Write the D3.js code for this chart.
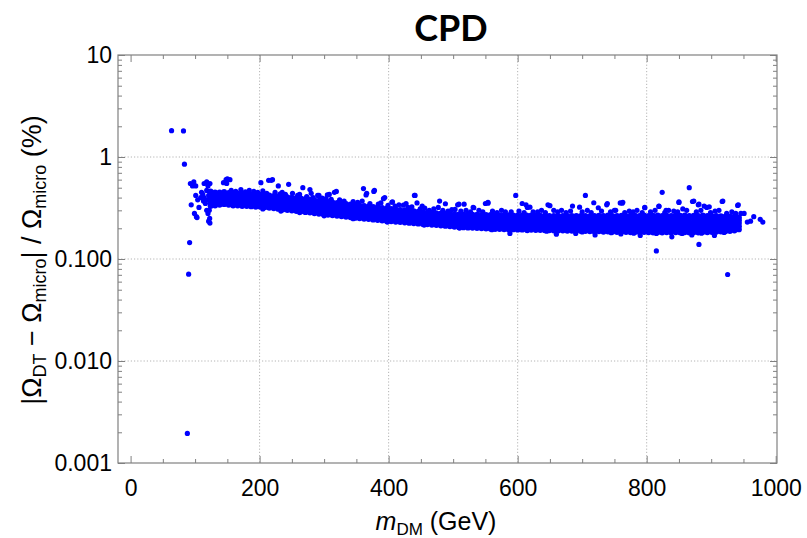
<!DOCTYPE html>
<html>
<head>
<meta charset="utf-8">
<script src="https://cdn.jsdelivr.net/npm/d3@7"></script>
<style>
  body { margin: 0; background: #fff; }
  text { font-family: "Liberation Sans", Arial, sans-serif; }
</style>
</head>
<body>
<script>
// values: m_DM (GeV) against relative deviation (%)
const outliers = [[63.5,1.81],[82,1.80],[83.5,0.85],[91.5,0.145],[90,0.071],[88,0.00195],
  [815,0.12],[881,0.139],[925.5,0.0705]];

const earlyPts = [[92.7,0.55],[96,0.52],[97,0.53],[101,0.52],[98,0.57],[101,0.42],[104,0.38],
  [108.7,0.40],[94,0.34],[99,0.28],[102,0.26],[103,0.255],[106,0.32],[110,0.45],[112,0.43],
  [113,0.37],[114,0.40],[116,0.35],[114,0.55],[118,0.57],[120,0.52],[123,0.55],[118,0.47],
  [119,0.38],[121,0.42],[118,0.30],[120,0.28],[122,0.30],[121,0.235],[122.6,0.25],[123,0.225]];

const upperPts = [[144,0.56],[148,0.60],[150,0.61],[154,0.60],[149,0.55],[202,0.56],[214,0.59],
  [218,0.59],[220,0.60],[229,0.52],[235,0.45],[245,0.54],[267,0.50],[278,0.48],[280,0.44],
  [290,0.42],[292,0.42],[305,0.425],[308,0.43],[316,0.45],[319,0.46],[361,0.49],[365,0.425],
  [366,0.44],[377,0.46],[378,0.47],[392,0.39],[394,0.40],[405,0.36],[406,0.363],[423,0.337],
  [427,0.35],[440,0.42],[441,0.42],[444,0.355],[452,0.33],[477,0.32],[479,0.37],[488,0.348],
  [503,0.306],[507,0.34],[509,0.345],[517,0.345],[531,0.32],[532,0.318],[550,0.35],[554,0.36],
  [554,0.353],[581,0.29],[597,0.42],[607,0.35],[613,0.34],[615,0.32],[619,0.322],[631,0.29],
  [647,0.34],[650,0.333],[656,0.30],[685,0.33],[696,0.322],[705,0.42],[718,0.356],[725,0.318],
  [738,0.34],[739,0.35],[750,0.30],[759,0.355],[762,0.353],[763,0.36],[779,0.29],[797,0.32],
  [797,0.318],[819,0.33],[819,0.328],[824,0.45],[830,0.30],[834,0.30],[850,0.363],[850,0.358],
  [856,0.31],[866,0.50],[871,0.366],[873,0.37],[880,0.34],[881,0.345],[889,0.33],[893,0.32],
  [897,0.325],[912,0.30],[917,0.366],[918,0.37],[941,0.335],[942,0.34],[946,0.28],[951,0.28],
  [956,0.23],[961,0.235],[966,0.26],[976,0.245],[980,0.23]];

// loose points just above the dense band
const fuzzPts = [[156,0.47],[163,0.46],[171,0.48],[178,0.455],[184,0.47],[191,0.46],[197,0.45],
  [205,0.465],[211,0.44],[224,0.45],[232,0.435],[240,0.43],[251,0.44],[259,0.42],[262,0.43],
  [273,0.41],[283,0.40],[297,0.395],[303,0.39],[311,0.385],[324,0.38],[331,0.37],[345,0.365],
  [352,0.36],[359,0.37],[371,0.35],[384,0.345],[388,0.355],[399,0.335],[410,0.33],[416,0.34],
  [430,0.32],[436,0.325],[449,0.31],[456,0.315],[463,0.30],[470,0.31],[484,0.30],[492,0.295],
  [498,0.305],[512,0.295],[520,0.30],[527,0.29],[540,0.30],[546,0.29],[561,0.295],[568,0.285],
  [575,0.30],[590,0.29],[602,0.295],[610,0.285],[624,0.29],[637,0.30],[643,0.285],[662,0.29],
  [668,0.30],[675,0.285],[682,0.295],[700,0.29],[708,0.30],[714,0.285],[730,0.295],[744,0.29],
  [752,0.30],[766,0.285],[773,0.295],[785,0.30],[793,0.285],[806,0.29],[813,0.30],[828,0.285],
  [842,0.295],[848,0.29],[862,0.30],[877,0.29],[884,0.30],[899,0.285],[906,0.295],[924,0.28],
  [932,0.29],[938,0.28]];

// points along the lower edge of the band
const lowPts = [[205,0.31],[233,0.295],[262,0.285],[300,0.265],[345,0.248],[398,0.23],[455,0.215],
  [510,0.201],[560,0.194],[588,0.178],[615,0.19],[645,0.187],[660,0.175],[690,0.178],[700,0.184],
  [720,0.172],[745,0.181],[760,0.176],[780,0.179],[790,0.17],[815,0.178],[839,0.165],[855,0.178],
  [870,0.172],[885,0.179],[905,0.17],[920,0.182]];

// dense band, one row per mass slice: [mass, ratios...]
const bandCols = [
  [124,.33,.355,.38,.405,.43,.46],[131,.335,.36,.38,.405,.425,.45],[138,.34,.36,.385,.405,.43,.45],
  [145,.345,.365,.385,.41,.43,.455],[152,.34,.36,.38,.405,.425,.445],[159,.335,.355,.38,.40,.42,.445],
  [166,.335,.355,.375,.395,.42,.44],[173,.33,.35,.37,.395,.415,.44],[180,.33,.35,.37,.39,.41,.435],
  [187,.328,.348,.368,.39,.41,.43],[194,.325,.345,.365,.385,.405,.43],[201,.325,.343,.362,.383,.405,.428],
  [208,.322,.34,.36,.38,.40,.425],[215,.318,.336,.355,.375,.397,.42],[222,.314,.332,.351,.371,.393,.416],
  [229,.31,.328,.347,.367,.389,.412],[236,.306,.324,.343,.363,.385,.408],[243,.302,.32,.339,.36,.381,.404],
  [250,.299,.317,.336,.356,.378,.40],[257,.295,.313,.332,.352,.374,.397],[264,.292,.31,.329,.349,.37,.393],
  [271,.288,.306,.325,.345,.366,.389],[278,.285,.302,.32,.34,.36,.383],[285,.281,.298,.316,.335,.355,.377],
  [292,.277,.294,.312,.331,.351,.372],[299,.274,.291,.308,.327,.347,.368],[306,.271,.288,.305,.323,.342,.362],
  [313,.268,.284,.301,.319,.338,.358],[320,.265,.281,.298,.316,.335,.354],[327,.262,.278,.295,.312,.331,.35],
  [334,.259,.275,.291,.309,.327,.346],[341,.256,.272,.288,.305,.323,.342],[348,.253,.269,.285,.302,.32,.338],
  [355,.251,.266,.282,.299,.316,.334],[362,.248,.263,.279,.295,.313,.331],[369,.246,.261,.276,.292,.31,.327],
  [376,.243,.258,.273,.289,.306,.323],[383,.241,.255,.27,.286,.303,.32],[390,.238,.253,.268,.283,.30,.316],
  [397,.236,.25,.265,.28,.296,.313],[404,.234,.248,.262,.277,.293,.31],[411,.232,.246,.26,.275,.29,.306],
  [418,.23,.244,.258,.272,.287,.303],[425,.228,.242,.255,.27,.284,.30],[432,.226,.24,.253,.267,.282,.297],
  [439,.224,.238,.251,.265,.279,.294],[446,.222,.236,.249,.263,.277,.291],[453,.22,.234,.247,.261,.275,.288],
  [460,.219,.232,.245,.259,.272,.285],[467,.217,.23,.243,.257,.27,.283],[474,.215,.228,.241,.255,.268,.281],
  [481,.213,.226,.239,.253,.266,.279],[488,.211,.224,.237,.251,.264,.278],[495,.209,.222,.236,.249,.263,.276],
  [502,.207,.22,.234,.248,.262,.275],[509,.205,.218,.232,.246,.26,.274],[516,.204,.217,.231,.245,.259,.273],
  [523,.203,.216,.23,.244,.258,.273],[530,.202,.215,.229,.243,.257,.272],[537,.201,.214,.228,.242,.257,.272],
  [544,.20,.213,.227,.241,.256,.271],[551,.199,.212,.226,.24,.255,.271],[558,.198,.211,.225,.239,.254,.27],
  [565,.197,.21,.224,.239,.254,.27],[572,.197,.21,.224,.238,.253,.269],[579,.196,.209,.223,.237,.253,.269],
  [586,.195,.208,.222,.237,.252,.269],[593,.195,.208,.222,.236,.252,.268],[600,.194,.207,.221,.236,.251,.268],
  [607,.194,.207,.221,.235,.251,.268],[614,.193,.206,.22,.235,.25,.267],[621,.193,.206,.22,.234,.25,.267],
  [628,.192,.205,.219,.234,.249,.266],[635,.192,.205,.219,.233,.249,.266],[642,.191,.204,.218,.233,.248,.266],
  [649,.191,.204,.218,.232,.248,.265],[656,.19,.203,.217,.232,.248,.265],[663,.19,.203,.217,.232,.247,.265],
  [670,.19,.203,.217,.231,.247,.265],[677,.189,.202,.216,.231,.247,.265],[684,.189,.202,.216,.231,.247,.265],
  [691,.189,.202,.216,.231,.246,.264],[698,.188,.201,.215,.23,.246,.264],[705,.188,.201,.215,.23,.246,.264],
  [712,.187,.20,.214,.229,.245,.263],[719,.186,.199,.213,.229,.246,.265],[726,.187,.20,.215,.23,.247,.266],
  [733,.185,.198,.213,.228,.245,.264],[740,.186,.20,.214,.23,.247,.268],[747,.185,.199,.213,.229,.246,.265],
  [754,.184,.198,.212,.228,.245,.264],[761,.185,.199,.214,.23,.247,.266],[768,.184,.198,.213,.229,.246,.265],
  [775,.183,.197,.212,.228,.246,.266],[782,.184,.198,.213,.229,.247,.266],[789,.183,.197,.212,.228,.245,.264],
  [796,.184,.198,.213,.229,.246,.267],[803,.183,.197,.212,.228,.246,.265],[810,.182,.196,.211,.227,.245,.266],
  [817,.183,.197,.212,.229,.247,.268],[824,.182,.196,.211,.228,.246,.265],[831,.183,.197,.212,.228,.246,.266],
  [838,.182,.196,.211,.227,.245,.265],[845,.183,.197,.213,.229,.247,.267],[852,.182,.196,.212,.228,.246,.266],
  [859,.183,.197,.212,.229,.247,.268],[866,.182,.196,.211,.228,.246,.265],[873,.183,.197,.212,.228,.246,.266],
  [880,.182,.196,.211,.227,.245,.265],[887,.184,.198,.213,.229,.247,.267],[894,.183,.197,.212,.228,.246,.265],
  [901,.184,.198,.213,.229,.246,.264],[908,.185,.199,.214,.23,.247,.265],[915,.186,.20,.215,.23,.246,.263],
  [922,.187,.201,.215,.23,.245,.262],[929,.188,.202,.216,.231,.246,.262],[936,.19,.204,.218,.232,.247,.262],
  [943,.195,.21,.225,.24,.255]
];

const xTicks = [0, 200, 400, 600, 800, 1000];
const xTickLabels = ["0", "200", "400", "600", "800", "1000"];
const yTicks = [0.001, 0.01, 0.1, 1, 10];
const yTickLabels = ["0.001", "0.010", "0.100", "1", "10"];
const xGridVals = [200, 400, 600, 800];
const yGridVals = [0.01, 0.1, 1];

var w = 807, h = 538;
var frame = { l: 118, r: 777, t: 55, b: 463 };
var frameColor = "#808080";

var loosePts = outliers.concat(earlyPts, upperPts, fuzzPts, lowPts);
var bandPts = bandCols.flatMap(function (row) {
  return row.slice(1).map(function (v) { return [row[0], v]; });
});

var xScale = d3.scaleLinear().domain([-19.5, 1002]).range([frame.l, frame.r]);
var yScale = d3.scaleLog().domain([0.001, 10]).range([frame.b, frame.t]);

var xMinor = d3.range(0, 1001, 50).filter(function (d) { return d % 200 !== 0; });
var yMinor = [];
[0.001, 0.01, 0.1, 1].forEach(function (p) {
  for (var k = 2; k <= 9; k++) yMinor.push(p * k);
});

var svg = d3.select("body").append("svg")
  .attr("width", w)
  .attr("height", h)
  .style("background", "#fff");

// grid
svg.append("g").selectAll("line").data(xGridVals).enter().append("line")
  .attr("x1", function (d) { return xScale(d); }).attr("x2", function (d) { return xScale(d); })
  .attr("y1", frame.t).attr("y2", frame.b)
  .attr("stroke", "#b4b4b4").attr("stroke-dasharray", "1.2,2");
svg.append("g").selectAll("line").data(yGridVals).enter().append("line")
  .attr("y1", function (d) { return yScale(d); }).attr("y2", function (d) { return yScale(d); })
  .attr("x1", frame.l).attr("x2", frame.r)
  .attr("stroke", "#b4b4b4").attr("stroke-dasharray", "1.2,2");

// points: the dense band is drawn a touch larger so the slices merge
svg.append("g").selectAll("circle").data(bandPts).enter().append("circle")
  .attr("cx", function (d) { return xScale(d[0]); })
  .attr("cy", function (d) { return yScale(d[1]); })
  .attr("r", 2.95)
  .attr("fill", "#0000ff");
svg.append("g").selectAll("circle").data(loosePts).enter().append("circle")
  .attr("cx", function (d) { return xScale(d[0]); })
  .attr("cy", function (d) { return yScale(d[1]); })
  .attr("r", 2.6)
  .attr("fill", "#0000ff");

// axes, ticks pointing inwards on all four sides
function styleAxis(g) {
  g.select(".domain").remove();
  g.selectAll(".tick line").attr("stroke", frameColor);
  g.selectAll(".tick text").attr("fill", "#000").style("font-size", "23px")
    .style("font-family", "'Liberation Sans', Arial, sans-serif");
}

svg.append("g").attr("transform", "translate(0," + frame.b + ")")
  .call(d3.axisBottom(xScale).tickValues(xTicks).tickSize(-7).tickPadding(17)
    .tickFormat(function (d, i) { return xTickLabels[i]; }))
  .call(styleAxis);
svg.append("g").attr("transform", "translate(0," + frame.b + ")")
  .call(d3.axisBottom(xScale).tickValues(xMinor).tickSize(-4).tickFormat(""))
  .call(styleAxis);
svg.append("g").attr("transform", "translate(0," + frame.t + ")")
  .call(d3.axisTop(xScale).tickValues(xTicks).tickSize(-7).tickFormat(""))
  .call(styleAxis);
svg.append("g").attr("transform", "translate(0," + frame.t + ")")
  .call(d3.axisTop(xScale).tickValues(xMinor).tickSize(-4).tickFormat(""))
  .call(styleAxis);

svg.append("g").attr("transform", "translate(" + frame.l + ",0)")
  .call(d3.axisLeft(yScale).tickValues(yTicks).tickSize(-7).tickPadding(6)
    .tickFormat(function (d, i) { return yTickLabels[i]; }))
  .call(styleAxis);
svg.append("g").attr("transform", "translate(" + frame.l + ",0)")
  .call(d3.axisLeft(yScale).tickValues(yMinor).tickSize(-4).tickFormat(""))
  .call(styleAxis);
svg.append("g").attr("transform", "translate(" + frame.r + ",0)")
  .call(d3.axisRight(yScale).tickValues(yTicks).tickSize(-7).tickFormat(""))
  .call(styleAxis);
svg.append("g").attr("transform", "translate(" + frame.r + ",0)")
  .call(d3.axisRight(yScale).tickValues(yMinor).tickSize(-4).tickFormat(""))
  .call(styleAxis);

// frame
svg.append("rect")
  .attr("x", frame.l).attr("y", frame.t)
  .attr("width", frame.r - frame.l).attr("height", frame.b - frame.t)
  .attr("fill", "none").attr("stroke", frameColor).attr("stroke-width", 1.2);

// title
svg.append("text")
  .attr("x", 451).attr("y", 41)
  .attr("text-anchor", "middle")
  .style("font-family", "Lato, 'Open Sans', sans-serif")
  .style("font-weight", "bold")
  .style("font-size", "36px")
  .text("CPD");

// x label
var xl = svg.append("text")
  .attr("x", 436).attr("y", 530)
  .attr("text-anchor", "middle")
  .style("font-size", "25px");
xl.append("tspan").style("font-style", "italic").text("m");
xl.append("tspan").attr("dy", 5).style("font-size", "17px").text("DM");
xl.append("tspan").attr("dy", -5).text(" (GeV)");

// y label
var yl = svg.append("text")
  .attr("transform", "translate(41,260) rotate(-90)")
  .attr("text-anchor", "middle")
  .style("font-size", "27px");
yl.append("tspan").text("|Ω");
yl.append("tspan").attr("dy", 5).style("font-size", "18px").text("DT");
yl.append("tspan").attr("dy", -5).text(" − Ω");
yl.append("tspan").attr("dy", 5).style("font-size", "18px").text("micro");
yl.append("tspan").attr("dy", -5).text("| / Ω");
yl.append("tspan").attr("dy", 5).style("font-size", "18px").text("micro");
yl.append("tspan").attr("dy", -5).text(" (%)");
</script>
</body>
</html>
